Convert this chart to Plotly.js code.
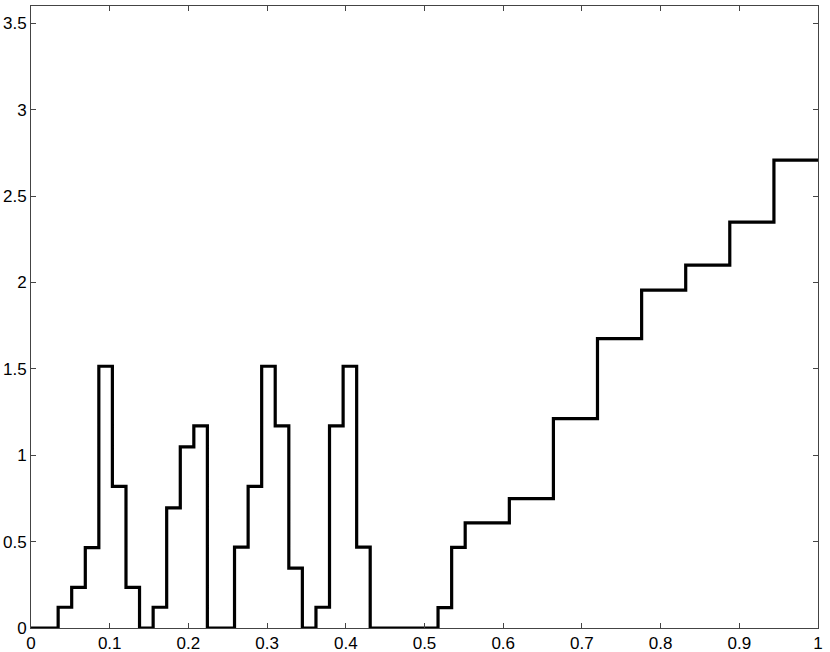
<!DOCTYPE html>
<html>
<head>
<meta charset="utf-8">
<script src="https://cdn.plot.ly/plotly-3.0.1.min.js"></script>
<style>
  html, body { margin: 0; padding: 0; background: #ffffff; }
  #chart { width: 830px; height: 652px; }
</style>
</head>
<body>
<div id="chart"></div>
<script>
// Step edges (left edge of each level)
const stepEdges = [
  0.0000, 0.0345, 0.0517, 0.0690, 0.0862, 0.1034, 0.1207, 0.1379,
  0.1552, 0.1724, 0.1897, 0.2069, 0.2241, 0.2586, 0.2759, 0.2931,
  0.3103, 0.3276, 0.3448, 0.3621, 0.3793, 0.3966, 0.4138, 0.4310,
  0.5172, 0.5345, 0.5517, 0.6078, 0.6638, 0.7198, 0.7759, 0.8319,
  0.8879, 0.9440, 1.0000
];
// Level of each step (value held until the next edge)
const stepValues = [
  0.000, 0.120, 0.235, 0.465, 1.515, 0.820, 0.235, 0.000,
  0.120, 0.695, 1.048, 1.170, 0.000, 0.468, 0.820, 1.515,
  1.170, 0.347, 0.000, 0.120, 1.170, 1.515, 0.468, 0.000,
  0.118, 0.467, 0.608, 0.749, 1.212, 1.675, 1.955, 2.100,
  2.349, 2.708, 2.708
];
const xTickVals = [0, 0.1, 0.2, 0.3, 0.4, 0.5, 0.6, 0.7, 0.8, 0.9, 1];
const xTickText = ['0', '0.1', '0.2', '0.3', '0.4', '0.5', '0.6', '0.7', '0.8', '0.9', '1'];
const yTickVals = [0, 0.5, 1, 1.5, 2, 2.5, 3, 3.5];
const yTickText = ['0', '0.5', '1', '1.5', '2', '2.5', '3', '3.5'];

const trace = {
  x: stepEdges,
  y: stepValues,
  type: 'scatter',
  mode: 'lines',
  line: { shape: 'hv', color: '#000000', width: 3.2 },
  hoverinfo: 'skip'
};

const axisCommon = {
  showgrid: false,
  zeroline: false,
  showline: true,
  linecolor: '#444444',
  linewidth: 1,
  mirror: 'ticks',
  ticks: 'inside',
  ticklen: 5,
  tickwidth: 1,
  tickcolor: '#444444',
  tickfont: { family: 'Liberation Sans, Arial, Helvetica, sans-serif', size: 17, color: '#000000' }
};

const layout = {
  width: 830,
  height: 652,
  margin: { l: 31, r: 12, t: 6, b: 24, pad: 0 },
  paper_bgcolor: '#ffffff',
  plot_bgcolor: '#ffffff',
  showlegend: false,
  xaxis: Object.assign({}, axisCommon, {
    range: [0, 1],
    tickmode: 'array',
    tickvals: xTickVals,
    ticktext: xTickText
  }),
  yaxis: Object.assign({}, axisCommon, {
    range: [0, 3.6],
    tickmode: 'array',
    tickvals: yTickVals,
    ticktext: yTickText
  })
};

Plotly.newPlot('chart', [trace], layout, { displayModeBar: false, staticPlot: true });
</script>
</body>
</html>
